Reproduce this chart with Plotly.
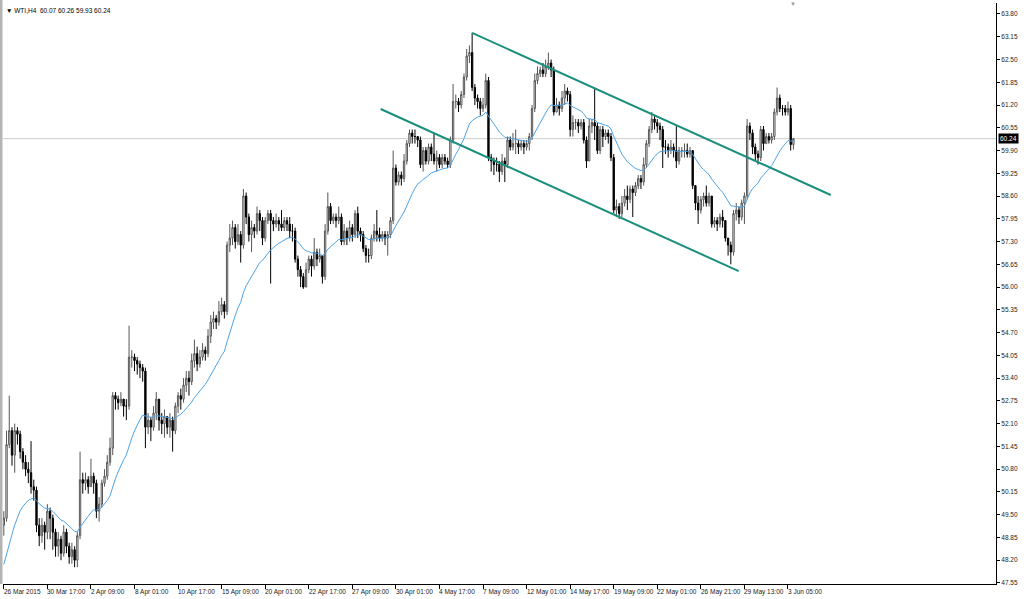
import plotly.graph_objects as go

# ---------------- data (WTI, H4) ----------------
first_open = 49.2
closes = [
    49.4, 51.5, 51.9, 51.2, 51.9, 51.8, 51.3, 51.0, 50.8, 50.7,
    50.3, 50.2, 49.2, 48.9, 49.2, 49.0, 49.6, 49.4, 49.0, 48.6,
    48.8, 48.4, 49.0, 48.6, 48.3, 48.5, 48.2, 48.9, 50.5, 50.4,
    50.5, 50.3, 50.6, 50.4, 49.6, 49.8, 50.4, 50.6, 51.0, 51.4,
    52.9, 52.8, 52.7, 52.8, 52.6, 52.6, 54.0, 54.0, 53.9, 53.8,
    53.7, 53.6, 52.0, 52.2, 52.0, 52.4, 52.8, 52.2, 52.1, 52.3,
    52.0, 52.2, 51.9, 52.6, 52.9, 52.8, 53.2, 53.4, 53.3, 53.9,
    54.1, 53.8, 54.0, 54.2, 54.1, 54.6, 55.0, 55.1, 55.0, 55.3,
    55.5, 55.3, 57.2, 57.4, 57.7, 57.3, 57.5, 57.2, 58.6, 58.0,
    57.5, 57.7, 57.6, 58.1, 57.9, 57.4, 57.9, 58.1, 57.9, 57.8,
    57.9, 57.8,
    57.7, 57.9, 57.8, 57.6, 57.6, 56.8, 56.5, 56.3, 56.0,
    56.5, 56.8, 56.6, 57.0, 56.8, 56.9, 56.3, 57.6, 58.3, 57.9,
    58.0, 57.9, 58.0, 57.3, 57.6, 57.4, 57.7, 57.5, 58.1, 57.6,
    57.5, 57.1, 56.9, 56.9, 57.4, 57.6, 57.5, 57.4, 57.5, 57.4,
    57.5, 57.9, 59.4, 59.0, 59.2, 59.1, 59.6, 60.1, 60.4, 60.3,
    60.3, 60.2, 59.5, 59.9, 59.6, 60.0, 59.8, 59.6, 59.7, 59.5,
    59.7, 59.6, 59.5, 60.2, 61.3, 61.3, 61.2, 61.5, 62.0, 62.6,
    62.7, 61.7, 61.4, 61.3, 61.1, 61.2, 61.9, 59.7, 59.6, 59.5,
    59.5, 59.3, 59.6, 59.5, 60.2, 60.0, 60.1, 60.1, 60.0, 60.1,
    60.0, 60.1, 60.3, 61.1, 61.9, 62.1, 62.2, 62.1, 62.3, 62.4,
    62.2, 61.0, 61.2, 61.1, 61.4, 61.6, 61.5, 60.5, 60.7, 60.7,
    60.6, 60.7, 60.2, 59.6, 60.6, 60.7, 60.6, 59.9, 60.5, 60.3,
    60.4, 60.3, 59.7, 58.2, 58.3, 58.1, 58.4, 58.6, 58.5, 58.8,
    58.7, 58.9, 59.1, 59.0, 59.5, 60.1, 60.5, 60.8, 60.7, 60.6,
    60.5, 60.0, 60.0, 59.9, 60.0, 59.9, 59.6, 59.9, 59.9, 59.9,
    59.8, 59.9, 58.9, 58.4, 58.2, 58.5, 58.6, 58.4, 58.6, 57.8, 57.9,
    57.8, 58.0, 57.9, 57.4, 57.2, 57.0, 58.1, 58.2, 58.0, 58.4,
    58.6, 60.6, 60.4, 60.0, 59.8, 59.7, 60.5, 60.1, 60.3, 60.2,
    60.3, 61.0, 61.4, 61.1, 61.1, 61.0, 61.1, 60.07, 60.24,
]
highs = [
    49.6, 51.9, 52.9, 52.0, 52.1, 52.0, 51.9, 51.4, 51.2, 51.0,
    51.6, 50.5, 50.3, 49.4, 49.4, 49.3, 49.8, 49.7, 49.5, 49.1,
    49.0, 48.9, 49.2, 49.1, 48.7, 48.7, 48.6, 49.0, 51.3, 50.7,
    50.7, 50.6, 51.1, 50.7, 50.5, 50.0, 50.5, 50.8, 51.2, 51.7,
    53.0, 53.0, 52.9, 53.0, 52.8, 52.8, 54.9, 54.2, 54.1, 54.0,
    53.9, 53.8, 53.7, 52.4, 52.3, 52.6, 53.0, 52.8, 52.4, 52.5,
    52.3, 52.4, 52.3, 52.7, 53.0, 53.1, 53.4, 53.6, 53.6, 54.1,
    54.5, 54.3, 54.2, 54.4, 54.3, 54.8, 55.2, 55.3, 55.2, 55.6,
    55.7, 55.6, 57.3, 57.8, 57.9, 57.8, 57.8, 57.6, 58.8, 58.7,
    58.1, 57.9, 57.8, 58.3, 58.2, 58.0, 58.0, 58.2, 58.2, 58.0,
    58.1, 58.0,
    58.2, 58.0, 58.0, 58.0, 57.8, 57.7, 56.9, 56.6, 56.4,
    56.7, 56.9, 56.9, 57.4, 57.1, 57.1, 56.9, 57.8, 58.7, 58.4,
    58.1, 58.1, 58.3, 58.1, 57.8, 57.7, 57.9, 57.8, 58.2, 58.3,
    57.7, 57.6, 57.2, 57.1, 57.5, 57.8, 58.2, 57.7, 57.6, 57.6,
    57.6, 58.0, 59.9, 59.5, 59.3, 59.3, 59.8, 60.2, 60.5, 60.5,
    60.5, 60.3, 60.3, 60.0, 60.0, 60.1, 60.1, 60.4, 59.9, 59.8,
    59.8, 59.8, 59.7, 60.3, 61.8, 61.5, 61.4, 61.6, 62.1, 62.8,
    62.9, 63.26, 61.8, 61.5, 61.4, 61.4, 62.1, 62.0, 59.8, 59.7,
    59.7, 59.6, 59.8, 59.7, 60.3, 60.3, 60.4, 60.5, 60.2, 60.2,
    60.2, 60.2, 60.4, 61.2, 62.1, 62.3, 62.3, 62.4, 62.5, 62.7,
    62.5, 62.3, 61.4, 61.3, 61.6, 61.8, 61.7, 61.6, 60.9, 60.8,
    60.8, 60.8, 60.8, 60.3, 60.8, 60.8, 61.7, 60.7, 60.6, 60.6,
    60.5, 60.5, 60.4, 59.8, 58.5, 58.4, 58.6, 58.8, 58.9, 58.9,
    58.9, 59.0, 59.2, 59.2, 59.7, 60.2, 60.6, 61.0, 60.9, 60.8,
    60.7, 60.6, 60.2, 60.1, 60.2, 60.1, 60.6, 60.0, 60.0, 60.1,
    60.1, 60.0, 59.9, 58.9, 58.6, 58.6, 58.7, 58.9, 58.7, 58.6, 58.0,
    58.0, 58.1, 58.2, 57.9, 57.4, 57.3, 58.2, 58.4, 58.3, 58.5,
    58.7, 60.8, 60.7, 60.5, 60.1, 59.9, 60.6, 60.6, 60.4, 60.4,
    60.4, 61.1, 61.7, 61.5, 61.2, 61.2, 61.3, 61.2, 60.26,
]
lows = [
    48.9, 49.3, 51.4, 50.9, 50.7, 51.5, 51.1, 50.8, 50.6, 50.4,
    50.1, 49.9, 49.0, 48.6, 48.7, 48.5, 48.8, 48.8, 48.5, 48.3,
    48.3, 48.2, 48.3, 48.4, 48.1, 48.1, 48.0, 48.0, 48.8, 50.1,
    50.2, 50.1, 50.3, 50.1, 49.4, 49.3, 49.7, 50.3, 50.5, 50.9,
    51.2, 52.5, 52.5, 52.6, 52.3, 52.2, 52.5, 53.7, 53.6, 53.5,
    53.4, 53.3, 51.4, 51.8, 51.6, 51.9, 52.2, 51.9, 51.8, 51.7,
    51.8, 51.7, 51.3, 51.8, 52.4, 52.5, 52.7, 53.0, 52.9, 53.2,
    53.7, 53.6, 53.7, 53.9, 53.9, 54.0, 54.4, 54.8, 54.8, 54.9,
    55.2, 55.1, 55.2, 57.0, 57.2, 57.1, 57.2, 56.7, 57.1, 57.8,
    57.3, 57.0, 57.4, 57.5, 57.6, 57.2, 57.3, 57.8, 56.1, 57.6,
    57.7, 57.6,
    57.6, 57.6, 57.6, 57.4, 57.3, 56.7, 56.3, 56.0, 55.95,
    56.0, 56.4, 56.3, 56.5, 56.6, 56.7, 56.1, 56.2, 57.5, 57.8,
    57.8, 57.7, 57.8, 57.2, 57.2, 57.2, 57.3, 57.3, 57.4, 57.4,
    57.3, 57.0, 56.7, 56.7, 56.8, 57.3, 57.3, 57.3, 57.3, 57.2,
    56.9, 57.4, 57.8, 58.9, 58.9, 58.9, 59.0, 59.5, 60.0, 60.1,
    60.1, 60.0, 59.4, 59.3, 59.5, 59.5, 59.6, 59.5, 59.3, 59.4,
    59.4, 59.5, 59.4, 59.4, 60.1, 61.1, 61.0, 61.1, 61.4, 61.9,
    62.4, 61.6, 61.2, 61.1, 60.9, 61.0, 61.1, 59.6, 59.3, 59.2,
    59.3, 59.0, 59.2, 59.0, 59.4, 59.9, 59.9, 59.8, 59.8, 59.9,
    59.8, 59.9, 59.9, 60.2, 61.0, 61.8, 62.0, 62.0, 62.0, 62.2,
    62.0, 60.9, 61.0, 60.9, 61.0, 61.2, 61.3, 60.3, 60.3, 60.5,
    60.4, 60.5, 60.1, 59.4, 59.6, 60.4, 60.2, 59.8, 59.8, 60.0,
    60.2, 60.1, 59.6, 58.1, 58.0, 57.95, 58.0, 58.3, 58.2, 58.4,
    58.0, 58.6, 58.8, 58.8, 58.9, 59.4, 60.0, 60.4, 60.5, 60.4,
    60.2, 59.4, 59.8, 59.7, 59.8, 59.7, 59.4, 59.5, 59.7, 59.7,
    59.7, 59.7, 58.8, 58.2, 57.8, 58.1, 58.3, 58.3, 58.3, 57.7, 57.7,
    57.6, 57.7, 57.7, 57.3, 56.9, 56.65, 56.9, 57.9, 57.8, 57.9,
    57.8, 58.5, 60.2, 59.8, 59.6, 59.5, 59.6, 59.9, 60.1, 60.1,
    60.1, 60.2, 60.9, 61.0, 60.9, 60.9, 60.9, 59.9, 59.93,
]

ma_period = 21
ma_seed = 47.95          # MA level just before the first visible bar

x_labels = ["26 Mar 2015", "30 Mar 17:00", "2 Apr 09:00", "8 Apr 01:00",
            "10 Apr 17:00", "15 Apr 09:00", "20 Apr 01:00", "22 Apr 17:00",
            "27 Apr 09:00", "30 Apr 01:00", "4 May 17:00", "7 May 09:00",
            "12 May 01:00", "14 May 17:00", "19 May 09:00", "22 May 01:00",
            "26 May 21:00", "29 May 13:00", "3 Jun 05:00"]
bars_per_label = 16

y_ticks = [47.55, 48.20, 48.85, 49.50, 50.15, 50.80, 51.45, 52.10, 52.75,
           53.40, 54.05, 54.70, 55.35, 56.00, 56.65, 57.30, 57.95, 58.60,
           59.25, 59.90, 60.55, 61.20, 61.85, 62.50, 63.15, 63.80]

last_price = 60.24
header = "WTI,H4  60.07 60.26 59.93 60.24"

# channel lines (bar index, price)
upper_x = [172.0, 303.7]
upper_y = [63.26, 58.63]
lower_x = [138.4, 269.9]
lower_y = [61.086, 56.457]

# ---------------- derived ----------------
n = len(closes)
idx = list(range(n))
opens = [first_open] + closes[:-1]
highs = [max(h, o, c) for h, o, c in zip(highs, opens, closes)]
lows = [min(l, o, c) for l, o, c in zip(lows, opens, closes)]

alpha = 2.0 / (ma_period + 1)
ma = []
prev = ma_seed
for c in closes:
    prev = prev + alpha * (c - prev)
    ma.append(prev)

tick_idx = [k * bars_per_label for k in range(len(x_labels))]

fig = go.Figure()
fig.add_trace(go.Candlestick(
    x=idx, open=opens, high=highs, low=lows, close=closes,
    increasing=dict(line=dict(color="#555555", width=1), fillcolor="#ffffff"),
    decreasing=dict(line=dict(color="#000000", width=1), fillcolor="#000000"),
    whiskerwidth=0, showlegend=False, hoverinfo="skip",
))
fig.add_trace(go.Scatter(x=idx, y=ma, mode="lines",
                         line=dict(color="#4ea3e6", width=1),
                         showlegend=False, hoverinfo="skip"))
fig.add_trace(go.Scatter(x=upper_x, y=upper_y, mode="lines",
                         line=dict(color="#1a8f7e", width=2),
                         showlegend=False, hoverinfo="skip"))
fig.add_trace(go.Scatter(x=lower_x, y=lower_y, mode="lines",
                         line=dict(color="#1a8f7e", width=2),
                         showlegend=False, hoverinfo="skip"))

font = "Liberation Sans, Arial, sans-serif"

fig.add_shape(type="line", xref="paper", x0=0, x1=1, yref="y",
              y0=last_price, y1=last_price,
              line=dict(color="#cccccc", width=1), layer="below")
# window frame at the left edge
fig.add_shape(type="rect", xref="paper", yref="paper",
              x0=-3 / 993, x1=-0.5 / 993, y0=0, y1=1.01,
              line=dict(width=0), fillcolor="#b4b4b4", layer="above")

annotations = []
for t, lab in zip(tick_idx, x_labels):
    annotations.append(dict(x=t, y=0, xref="x", yref="paper", text=lab,
                            showarrow=False, xanchor="left", yanchor="top",
                            xshift=-2, yshift=-2,
                            font=dict(family=font, size=6.5, color="#222")))
annotations.append(dict(x=1, y=last_price, xref="paper", yref="y",
                        text=f"{last_price:.2f}", showarrow=False,
                        xanchor="left", yanchor="middle", xshift=2,
                        bgcolor="#000000", borderpad=1,
                        font=dict(family=font, size=6.5, color="#ffffff")))
annotations.append(dict(x=0, y=1, xref="paper", yref="paper",
                        text="\u25bc " + header, showarrow=False,
                        xanchor="left", yanchor="top", xshift=1, yshift=-2,
                        font=dict(family=font, size=6.5, color="#000")))
annotations.append(dict(x=290, y=1, xref="x", yref="paper",
                        text="\u25bc", showarrow=False,
                        xanchor="center", yanchor="bottom", yshift=-6,
                        font=dict(family=font, size=6, color="#999")))

fig.update_layout(
    width=1024, height=599,
    margin=dict(l=3, r=28, t=3, b=15),
    paper_bgcolor="#ffffff", plot_bgcolor="#ffffff",
    annotations=annotations,
    xaxis=dict(range=[-0.3, 364.4], showgrid=False, zeroline=False,
               rangeslider=dict(visible=False),
               tickmode="array", tickvals=tick_idx, ticktext=[""] * len(tick_idx),
               ticks="outside", ticklen=4, tickcolor="#000", tickwidth=1,
               showline=True, linecolor="#000", linewidth=1),
    yaxis=dict(range=[47.52, 64.114], side="right", showgrid=False,
               zeroline=False, tickmode="array", tickvals=y_ticks,
               ticktext=[f"{v:.2f}" for v in y_ticks],
               ticks="outside", ticklen=3, tickcolor="#000",
               tickfont=dict(family=font, size=6.5, color="#222"),
               showline=True, linecolor="#000", linewidth=1),
)

fig.write_html("out.html",
               config={"displayModeBar": False},
               post_script="document.body.style.margin='0';"
                           "document.body.style.overflow='hidden';")
